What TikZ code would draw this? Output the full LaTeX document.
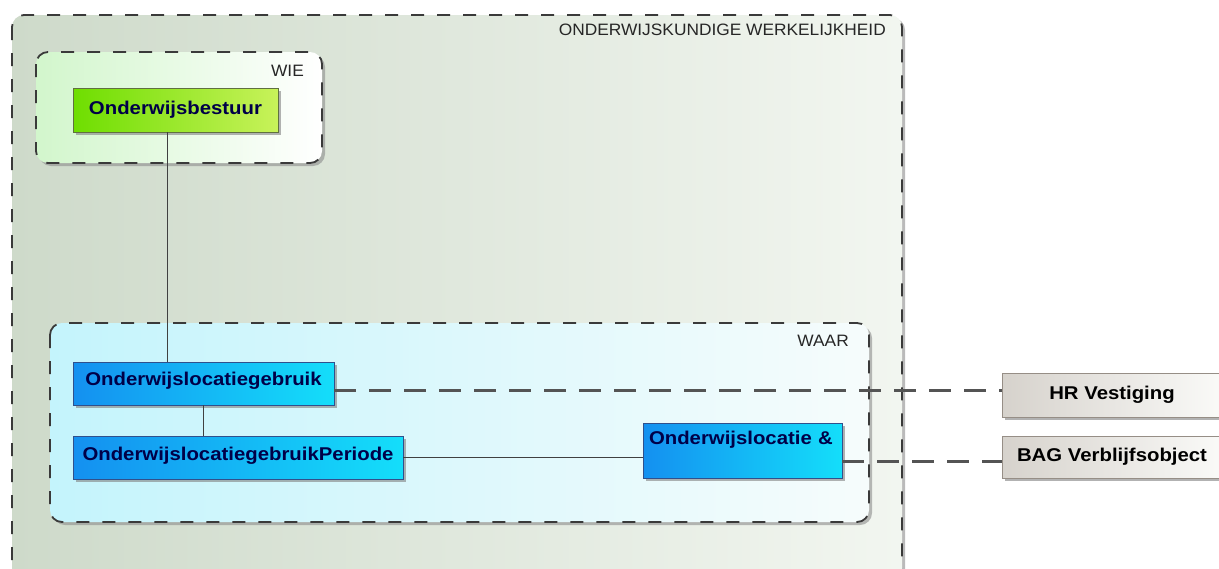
\documentclass[tikz,border=0pt]{standalone}
\usepackage{fontspec}
\setmainfont{Liberation Sans}
\newfontfamily\boxfont[FakeStretch=1.1]{Liberation Sans}
\newfontfamily\titlefont[FakeStretch=1.05]{Liberation Sans}
\usetikzlibrary{shadows,calc}
\definecolor{outerL}{RGB}{206,218,202}
\definecolor{outerR}{RGB}{242,246,240}
\definecolor{wieL}{RGB}{210,246,204}
\definecolor{wieR}{RGB}{255,255,255}
\definecolor{waarL}{RGB}{196,244,252}
\definecolor{waarR}{RGB}{246,252,252}
\definecolor{grL}{RGB}{110,222,0}
\definecolor{grR}{RGB}{200,242,90}
\definecolor{grB}{RGB}{96,112,64}
\definecolor{blL}{RGB}{20,144,240}
\definecolor{blR}{RGB}{20,222,250}
\definecolor{blB}{RGB}{48,80,140}
\definecolor{gyL}{RGB}{214,210,204}
\definecolor{gyR}{RGB}{250,250,248}
\definecolor{gyB}{RGB}{150,142,134}
\definecolor{navy}{RGB}{0,0,72}
\definecolor{bord}{RGB}{58,58,58}
\definecolor{conn}{RGB}{84,84,84}
\tikzset{
  container/.style={draw=bord, line width=1.8pt, dash pattern=on 13pt off 13pt,
    rounded corners=12pt,
    drop shadow={shadow xshift=3pt, shadow yshift=-3pt, fill=black!45, opacity=0.6}},
  boxbase/.style={draw, line width=0.8pt, inner sep=0pt, font=\boxfont\bfseries\fontsize{18.5}{20}\selectfont,
    drop shadow={shadow xshift=3pt, shadow yshift=-3pt, fill=black!50, opacity=0.6}},
  greenbox/.style={boxbase, draw=grB, left color=grL, right color=grR, text=navy},
  bluebox/.style={boxbase, draw=blB, left color=blL, right color=blR, text=navy},
  graybox/.style={boxbase, draw=gyB, left color=gyL, right color=gyR, text=black},
  ctitle/.style={font=\titlefont\fontsize{16.5}{18}\selectfont, text=black!85, inner sep=0pt, anchor=east},
  solidconn/.style={draw=black!75, line width=1pt},
  dashconn/.style={draw=conn, line width=3pt, dash pattern=on 22pt off 13pt}
}
\begin{document}
\begin{tikzpicture}[x=1pt,y=-1pt]
\clip (0,0) rectangle (1219,568);
\fill[white] (0,0) rectangle (1219,568);
% containers
\path[container, left color=outerL, right color=outerR] (12,15) rectangle (902,580);
\node[ctitle] (tOuter) at (886,30) {ONDERWIJSKUNDIGE WERKELIJKHEID};
\path[container, left color=wieL, right color=wieR] (36,52) rectangle (322,163);
\node[ctitle] (tWie) at (304,71) {WIE};
\path[container, left color=waarL, right color=waarR] (50,323) rectangle (869,522);
\node[ctitle] (tWaar) at (849,341) {WAAR};
% nodes
\node[greenbox, minimum width=205pt, minimum height=44pt] (best) at (175.5,110) {Onderwijsbestuur};
\node[bluebox, minimum width=261pt, minimum height=43pt, text depth=9pt] (gebr) at (203.5,383.5) {Onderwijslocatiegebruik};
\node[bluebox, minimum width=330pt, minimum height=43pt, text depth=8pt] (per) at (238,457.5) {OnderwijslocatiegebruikPeriode};
\node[bluebox, minimum width=199pt, minimum height=55pt, text width=187pt, align=left, text height=21pt, text depth=34pt] (loc) at (742.5,450.5) {Onderwijslocatie \&};
\node[graybox, minimum width=220pt, minimum height=44pt] (hr) at (1112,395) {HR Vestiging};
\node[graybox, minimum width=220pt, minimum height=42pt] (bag) at (1112,457) {BAG Verblijfsobject};
% connectors
\coordinate (vx) at (167,0);
\coordinate (d1) at (0,390);
\coordinate (d2) at (0,461);
\draw[solidconn] (best.south -| vx) -- (gebr.north -| vx);
\draw[solidconn] (gebr.south) -- (gebr.south |- per.north);
\draw[solidconn] (per.east) -- (per.east -| loc.west);
\draw[dashconn] (gebr.east |- d1) -- (hr.west |- d1);
\draw[dashconn] (loc.east |- d2) -- (bag.west |- d2);
\end{tikzpicture}
\end{document}
